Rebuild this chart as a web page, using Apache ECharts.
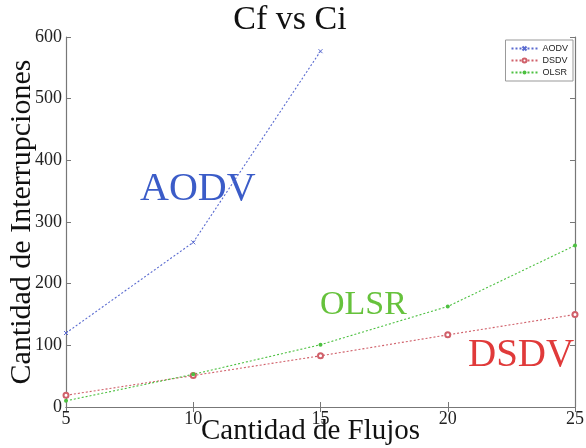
<!DOCTYPE html>
<html>
<head>
<meta charset="utf-8">
<script src="https://cdn.jsdelivr.net/npm/echarts@6/dist/echarts.min.js"></script>
<style>
  html, body { margin: 0; padding: 0; background: #fff; }
  #chart { width: 586px; height: 448px; }
</style>
</head>
<body>
<div id="chart"></div>
<script>
// === DATA ===
const flujos = [5, 10, 15, 20, 25];
const aodv = [120, 267, 577];
const dsdv = [19, 51, 83, 117, 150];
const olsr = [10, 53, 101, 163, 262];

const serif = '"Liberation Serif", "DejaVu Serif", serif';
const axisColor = '#777';

function pairs(xs, ys) {
    return ys.map((v, i) => [xs[i], v]);
}

const chart = echarts.init(document.getElementById('chart'));

const commonX = {
    type: 'value',
    min: 5,
    max: 25,
    interval: 5,
    splitLine: { show: false },
    axisLine: { lineStyle: { color: axisColor, width: 1.2 } },
    axisTick: { inside: true, length: 5, lineStyle: { color: axisColor } }
};
const commonY = {
    type: 'value',
    min: 0,
    max: 600,
    interval: 100,
    splitLine: { show: false },
    axisLine: { show: true, lineStyle: { color: axisColor, width: 1.2 } },
    axisTick: { show: true, inside: true, length: 5, lineStyle: { color: axisColor } }
};

const option = {
    animation: false,
    backgroundColor: '#fff',
    title: {
        text: 'Cf vs Ci',
        left: 285,
        textAlign: 'center',
        top: -2,
        textStyle: { fontFamily: serif, fontSize: 34, fontWeight: 'normal', color: '#111' }
    },
    grid: { left: 66, right: 11, top: 37, bottom: 41, outerBoundsMode: 'none', containLabel: false },
    legend: {
        orient: 'vertical',
        right: 13,
        top: 40,
        itemWidth: 26,
        itemHeight: 5,
        itemGap: 3,
        padding: [4, 5, 4, 5],
        borderColor: '#999',
        borderWidth: 1,
        backgroundColor: '#fff',
        textStyle: { fontSize: 9, color: '#222', fontFamily: 'Liberation Sans, sans-serif' },
        data: ['AODV', 'DSDV', 'OLSR']
    },
    xAxis: [
        Object.assign({}, commonX, {
            name: 'Cantidad de Flujos',
            nameLocation: 'middle',
            nameGap: 10,
            nameMoveOverlap: false,
            nameTextStyle: { fontFamily: serif, fontSize: 29, color: '#111', padding: [0, 20, 0, 0] },
            axisLabel: { fontFamily: serif, fontSize: 18, color: '#222', margin: 3 }
        }),
        Object.assign({}, commonX, { position: 'top', axisLabel: { show: false } })
    ],
    yAxis: [
        Object.assign({}, commonY, {
            name: 'Cantidad de Interrupciones',
            nameLocation: 'middle',
            nameGap: 29,
            nameMoveOverlap: false,
            nameTextStyle: { fontFamily: serif, fontSize: 30, color: '#111' },
            axisLabel: { fontFamily: serif, fontSize: 18, color: '#222', margin: 4 }
        }),
        Object.assign({}, commonY, { position: 'right', axisLabel: { show: false } })
    ],
    series: [
        {
            name: 'AODV',
            type: 'line',
            data: pairs(flujos, aodv),
            symbol: 'path://M0,0L10,10M10,0L0,10',
            symbolSize: 4,
            itemStyle: { color: 'rgba(0,0,0,0)', borderColor: '#5a6bd0', borderWidth: 1 },
            lineStyle: { color: '#5a6bd0', width: 1.1, type: [2, 2] }
        },
        {
            name: 'DSDV',
            type: 'line',
            data: pairs(flujos, dsdv),
            symbol: 'emptyCircle',
            symbolSize: 5,
            itemStyle: { color: '#d0606a', borderWidth: 1 },
            lineStyle: { color: '#d0606a', width: 1.1, type: [2, 2] }
        },
        {
            name: 'OLSR',
            type: 'line',
            data: pairs(flujos, olsr),
            symbol: 'circle',
            symbolSize: 4,
            itemStyle: { color: '#4cc040' },
            lineStyle: { color: '#4cc040', width: 1.1, type: [2, 2] }
        }
    ],
    graphic: [
        {
            type: 'text', left: 140, top: 169,
            style: { text: 'AODV', fontFamily: serif, fontSize: 40, fill: '#3b5cc8' }
        },
        {
            type: 'text', left: 320, top: 288,
            style: { text: 'OLSR', fontFamily: serif, fontSize: 34, fill: '#66c23c' }
        },
        {
            type: 'text', left: 468, top: 336,
            style: { text: 'DSDV', fontFamily: serif, fontSize: 39, fill: '#e03a3a' }
        }
    ]
};

chart.setOption(option);
</script>
</body>
</html>
